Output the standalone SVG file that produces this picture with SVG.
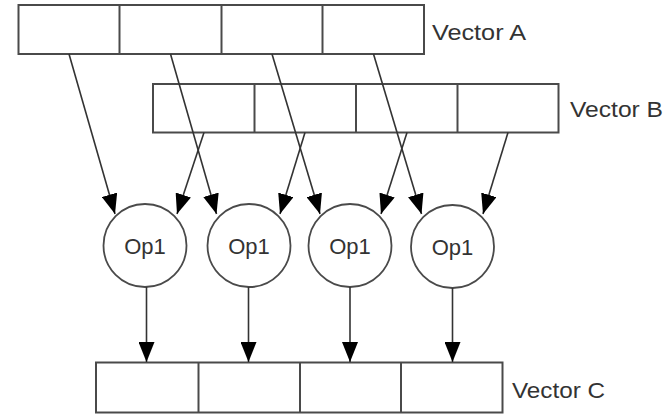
<svg xmlns="http://www.w3.org/2000/svg" width="665" height="415" viewBox="0 0 665 415">
<defs>
<style>
.box{fill:#fff;stroke:#4a4a4a;stroke-width:2}
.div{stroke:#4a4a4a;stroke-width:2}
.op{fill:#fff;stroke:#4a4a4a;stroke-width:1.8}
.lbl{font-family:"Liberation Sans",Arial,sans-serif;font-size:22px;fill:#333}
.oplbl{font-family:"Liberation Sans",Arial,sans-serif;font-size:22px;fill:#333;text-anchor:middle}
.edge{stroke:#333;stroke-width:1.6;fill:none;marker-end:url(#ah)}
</style>
<marker id="ah" viewBox="0 0 20 16" refX="20" refY="8" markerWidth="20" markerHeight="16" markerUnits="userSpaceOnUse" orient="auto">
<path d="M0,0 L20,8 L0,16 Z" fill="#000"/>
</marker>
</defs>
<rect width="665" height="415" fill="#fff"/>
<g id="vectorA">
<rect class="box" x="18.5" y="5" width="405.5" height="49"/>
<line class="div" x1="119.5" y1="5" x2="119.5" y2="54"/>
<line class="div" x1="221.5" y1="5" x2="221.5" y2="54"/>
<line class="div" x1="322.5" y1="5" x2="322.5" y2="54"/>
<text class="lbl" x="432" y="40" textLength="94" lengthAdjust="spacingAndGlyphs">Vector A</text>
</g>
<g id="vectorB">
<rect class="box" x="153" y="84" width="405.5" height="48.5"/>
<line class="div" x1="254.5" y1="84" x2="254.5" y2="132.5"/>
<line class="div" x1="356" y1="84" x2="356" y2="132.5"/>
<line class="div" x1="457.5" y1="84" x2="457.5" y2="132.5"/>
<text class="lbl" x="570" y="117" textLength="93" lengthAdjust="spacingAndGlyphs">Vector B</text>
</g>
<g id="vectorC">
<rect class="box" x="96" y="362.5" width="406.5" height="50"/>
<line class="div" x1="198.5" y1="362.5" x2="198.5" y2="412.5"/>
<line class="div" x1="300" y1="362.5" x2="300" y2="412.5"/>
<line class="div" x1="401" y1="362.5" x2="401" y2="412.5"/>
<text class="lbl" x="512" y="398" textLength="93" lengthAdjust="spacingAndGlyphs">Vector C</text>
</g>
<g id="op1a">
<circle class="op" cx="145" cy="245.5" r="41.5"/>
<text class="oplbl" x="145" y="253.5">Op1</text>
</g>
<g id="op1b">
<circle class="op" cx="249" cy="245.5" r="41.5"/>
<text class="oplbl" x="249" y="253.5">Op1</text>
</g>
<g id="op1c">
<circle class="op" cx="350" cy="245.5" r="41.5"/>
<text class="oplbl" x="350" y="253.5">Op1</text>
</g>
<g id="op1d">
<circle class="op" cx="452.5" cy="246.5" r="41.5"/>
<text class="oplbl" x="452.5" y="254.5">Op1</text>
</g>
<g id="connectors">
<line class="edge" x1="69" y1="54" x2="115" y2="214"/>
<line class="edge" x1="170.5" y1="54" x2="216.5" y2="214"/>
<line class="edge" x1="272" y1="54" x2="320" y2="214"/>
<line class="edge" x1="373.5" y1="54" x2="421.5" y2="214"/>
<line class="edge" x1="204" y1="132.5" x2="177" y2="214"/>
<line class="edge" x1="305" y1="132.5" x2="280" y2="214"/>
<line class="edge" x1="407" y1="132.5" x2="381" y2="214"/>
<line class="edge" x1="508" y1="132.5" x2="483" y2="214"/>
<line class="edge" x1="146.5" y1="287" x2="146.5" y2="362"/>
<line class="edge" x1="248.5" y1="287" x2="248.5" y2="362"/>
<line class="edge" x1="350" y1="287" x2="350" y2="362"/>
<line class="edge" x1="452.5" y1="288" x2="452.5" y2="362"/>
</g>
</svg>
